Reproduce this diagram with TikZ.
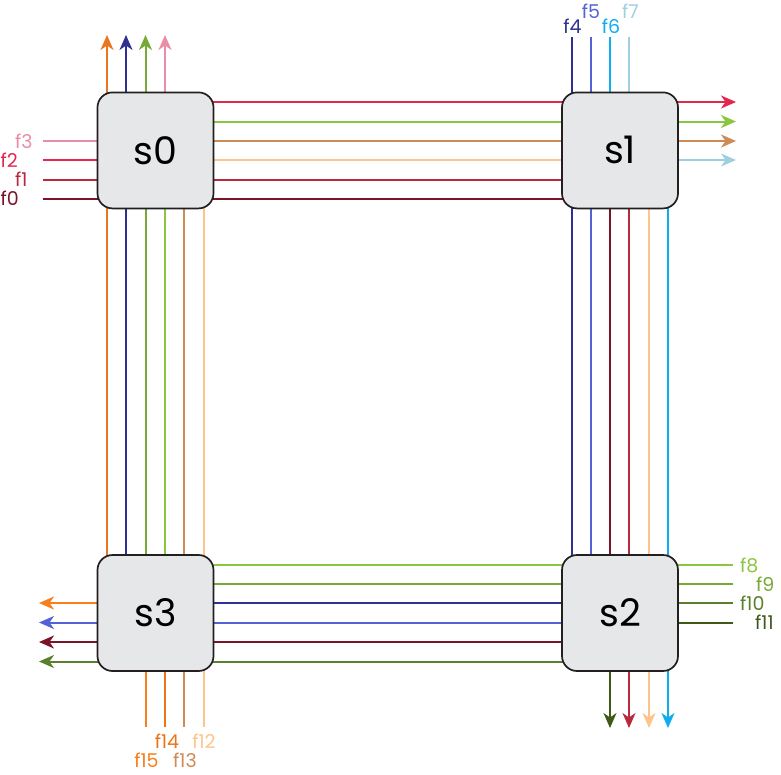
\documentclass[tikz,border=0pt]{standalone}
\usepackage{fontspec}
\setmainfont{Poppins}
\usetikzlibrary{arrows.meta,backgrounds}
\definecolor{cf0}{HTML}{7A1426}
\definecolor{cf1}{HTML}{B8283F}
\definecolor{cf2}{HTML}{E3284F}
\definecolor{cf3}{HTML}{EA8DA6}
\definecolor{cf4}{HTML}{2E3192}
\definecolor{cf5}{HTML}{5462D6}
\definecolor{cf6}{HTML}{0CAEEF}
\definecolor{cf7}{HTML}{9FCFE0}
\definecolor{cf8}{HTML}{8CC63F}
\definecolor{cf9}{HTML}{76A935}
\definecolor{cf10}{HTML}{5B7F2A}
\definecolor{cf11}{HTML}{3F5A17}
\definecolor{cf12}{HTML}{FFC48C}
\definecolor{cf13}{HTML}{CD8C55}
\definecolor{cf14}{HTML}{E9761C}
\definecolor{cf15}{HTML}{F7801C}
\definecolor{boxline}{HTML}{231F20}
\definecolor{boxfill}{HTML}{E6E7E8}
\begin{document}
\begin{tikzpicture}[x=1pt,y=-1pt,
  sw/.style={draw=boxline, fill=boxfill, line width=1.7pt, rounded corners=15pt,
    minimum width=116pt, minimum height=116pt, inner sep=0pt,
    font=\fontsize{38}{42}\selectfont},
  fl/.style={line width=2pt, draw=#1},
  ar/.style={line width=2pt, draw=#1, fill=#1, -{Stealth[length=15pt,width=13pt,inset=4.5pt]}},
  lb/.style={text=#1, font=\fontsize{19}{20}\selectfont, inner sep=0pt},
]
\useasboundingbox (0,0) rectangle (781,774);
\node[sw] (s0) at (155.5,150.4) {s0};
\node[sw] (s1) at (620,150.4) {s1};
\node[sw] (s2) at (620,613) {s2};
\node[sw] (s3) at (155.5,613) {s3};
\begin{scope}[on background layer]
% s0 -> s1
\foreach \y/\c in {102/cf2,121.5/cf8,141/cf13,160/cf12,179.5/cf1,198.5/cf0}
  \draw[fl=\c] (s0 |- 0,\y) -- (s1 |- 0,\y);
% inputs to s0
\foreach \y/\c in {141/cf3,160/cf2,179.5/cf1,198.5/cf0}
  \draw[fl=\c] (43,\y) -- (s0 |- 0,\y);
% s0 top outputs
\foreach \x/\c in {107/cf14,126/cf4,145.5/cf9,165/cf3}
  \draw[ar=\c] (s0 -| \x,0) -- (\x,35);
% s1 right outputs
\foreach \y/\c in {102/cf2,121.5/cf8,141/cf13,160/cf7}
  \draw[ar=\c] (s1 |- 0,\y) -- (736,\y);
% s1 top inputs
\foreach \x/\c in {571.5/cf4,591/cf5,610/cf6,629/cf7}
  \draw[fl=\c] (\x,37) -- (s1 -| \x,0);
% s1 -> s2
\foreach \x/\c in {571.5/cf4,591/cf5,610/cf0,629/cf1,649/cf12,668/cf6}
  \draw[fl=\c] (s1 -| \x,0) -- (s2 -| \x,0);
% s2 right inputs
\foreach \y/\c in {565/cf8,584/cf9,603/cf10,622.5/cf11}
  \draw[fl=\c] (733,\y) -- (s2 |- 0,\y);
% s2 bottom outputs
\foreach \x/\c in {610/cf11,629/cf1,649/cf12,668/cf6}
  \draw[ar=\c] (s2 -| \x,0) -- (\x,728);
% s2 -> s3
\foreach \y/\c in {565/cf8,584/cf9,603/cf4,622.5/cf5,642/cf0,661.5/cf10}
  \draw[fl=\c] (s2 |- 0,\y) -- (s3 |- 0,\y);
% s3 left outputs
\foreach \y/\c in {603/cf15,622.5/cf5,642/cf0,661.5/cf10}
  \draw[ar=\c] (s3 |- 0,\y) -- (39,\y);
% s3 bottom inputs
\foreach \x/\c in {145.5/cf15,165/cf14,184/cf13,203.5/cf12}
  \draw[fl=\c] (\x,727) -- (s3 -| \x,0);
% s3 -> s0
\foreach \x/\c in {107/cf14,126/cf4,145.5/cf9,165/cf8,184/cf13,203.5/cf12}
  \draw[fl=\c] (s3 -| \x,0) -- (s0 -| \x,0);
\end{scope}
% labels
\node[lb=cf3, anchor=west] (l3) at (15,141) {f3};
\node[lb=cf2, anchor=west] (l2) at (0.5,160) {f2};
\node[lb=cf1, anchor=west] (l1) at (15,179.5) {f1};
\node[lb=cf0, anchor=west] (l0) at (0.5,198.5) {f0};
\node[lb=cf4] (l4) at (572.5,26) {f4};
\node[lb=cf5] (l5) at (591,11) {f5};
\node[lb=cf6] (l6) at (611,26) {f6};
\node[lb=cf7] (l7) at (630.5,11) {f7};
\node[lb=cf8, anchor=west] (l8) at (740,565) {f8};
\node[lb=cf9, anchor=west] (l9) at (756,584) {f9};
\node[lb=cf10, anchor=west] (l10) at (740,603) {f10};
\node[lb=cf11, anchor=west] (l11) at (755,622.5) {f11};
\node[lb=cf14] (l14) at (167,741.5) {f14};
\node[lb=cf12] (l12) at (204,741.5) {f12};
\node[lb=cf15] (l15) at (146.5,760) {f15};
\node[lb=cf13] (l13) at (185,760) {f13};
\end{tikzpicture}
\end{document}
